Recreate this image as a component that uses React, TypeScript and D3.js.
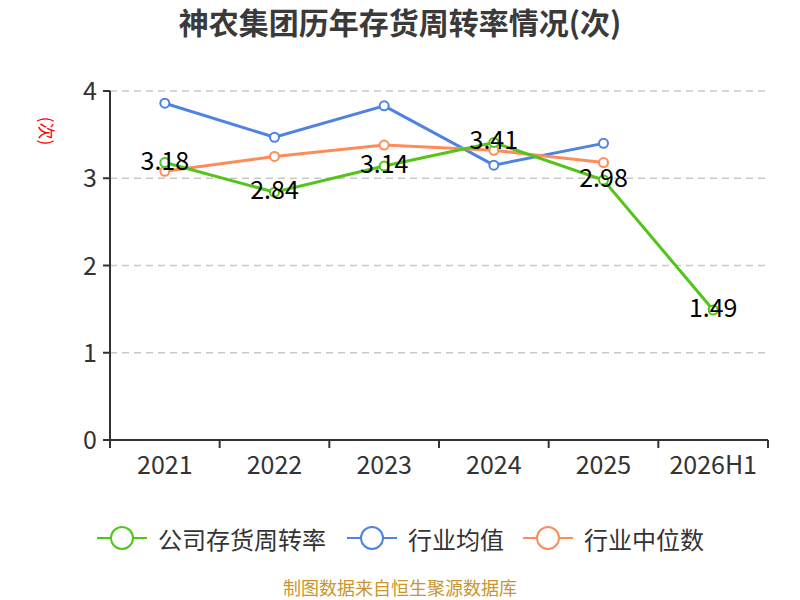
import React from "react";
import * as d3 from "d3";

const categories = ["2021", "2022", "2023", "2024", "2025", "2026H1"];
const companyValues = [3.18, 2.84, 3.14, 3.41, 2.98, 1.49];
const industryAvg = [3.86, 3.47, 3.83, 3.15, 3.4];
const industryMedian = [3.08, 3.25, 3.38, 3.32, 3.18];
const yTicks = [0, 1, 2, 3, 4];

const seriesNames = ["公司存货周转率", "行业均值", "行业中位数"];
const seriesColors = ["#52c41a", "#4e82e3", "#fd8c5a"];

const FONT = "'Noto Sans CJK SC', 'Noto Sans', sans-serif";

export default function App() {
  const width = 800;
  const height = 600;
  const margin = { top: 91, right: 32, bottom: 160, left: 110 };

  const x = d3
    .scaleBand()
    .domain(categories)
    .range([margin.left, width - margin.right]);

  const y = d3
    .scaleLinear()
    .domain([0, 4])
    .range([height - margin.bottom, margin.top]);

  const cx = (c: string) => (x(c) ?? 0) + x.bandwidth() / 2;

  const line = d3
    .line<[string, number]>()
    .x((d) => cx(d[0]))
    .y((d) => y(d[1]));

  const series = [companyValues, industryAvg, industryMedian].map((vals) =>
    vals.map((v, i) => [categories[i], v] as [string, number])
  );

  const boundaries = [...categories.map((c) => x(c) ?? 0), width - margin.right];

  const legendX = [97, 347, 523];

  return (
    <svg
      width={width}
      height={height}
      style={{ position: "absolute", left: 0, top: 0, background: "#fff" }}
      fontFamily={FONT}
    >
      <text
        x={400}
        y={34}
        textAnchor="middle"
        fontSize={30}
        fontWeight="bold"
        fill="#3a3a3a"
      >
        神农集团历年存货周转率情况(次)
      </text>

      {/* y axis label */}
      <text
        transform={`translate(47,131) rotate(90)`}
        textAnchor="middle"
        dominantBaseline="central"
        fontSize={17}
        fill="red"
      >
        (次)
      </text>

      {/* grid */}
      {yTicks
        .filter((t) => t > 0)
        .map((t) => (
          <line
            key={t}
            x1={margin.left}
            x2={width - margin.right}
            y1={y(t)}
            y2={y(t)}
            stroke="#c8c8c8"
            strokeWidth={1.5}
            strokeDasharray="7,5"
          />
        ))}

      {/* y axis */}
      <line
        x1={margin.left}
        x2={margin.left}
        y1={y(0)}
        y2={y(4)}
        stroke="#333"
        strokeWidth={2}
      />
      {yTicks.map((t) => (
        <g key={t}>
          <line
            x1={margin.left - 7}
            x2={margin.left}
            y1={y(t)}
            y2={y(t)}
            stroke="#333"
            strokeWidth={2}
          />
          <text
            x={margin.left - 13}
            y={y(t) - 2}
            textAnchor="end"
            dominantBaseline="central"
            fontSize={25}
            fill="#333"
          >
            {t}
          </text>
        </g>
      ))}

      {/* x axis */}
      <line
        x1={margin.left}
        x2={width - margin.right}
        y1={y(0)}
        y2={y(0)}
        stroke="#333"
        strokeWidth={2}
      />
      {boundaries.map((b, i) => (
        <line
          key={i}
          x1={b}
          x2={b}
          y1={y(0)}
          y2={y(0) + 8}
          stroke="#333"
          strokeWidth={2}
        />
      ))}
      {categories.map((c) => (
        <text
          key={c}
          x={cx(c)}
          y={y(0) + 34}
          textAnchor="middle"
          fontSize={25}
          fill="#333"
        >
          {c}
        </text>
      ))}

      {/* lines */}
      {[1, 2, 0].map((si) => (
        <g key={si}>
          <path
            d={line(series[si]) ?? ""}
            fill="none"
            stroke={seriesColors[si]}
            strokeWidth={3}
          />
          {series[si].map((d, i) => (
            <circle
              key={i}
              cx={cx(d[0])}
              cy={y(d[1])}
              r={4.5}
              fill="#fff"
              stroke={seriesColors[si]}
              strokeWidth={2}
            />
          ))}
        </g>
      ))}

      {/* labels */}
      {series[0].map((d, i) => (
        <text
          key={i}
          x={cx(d[0])}
          y={y(d[1]) - 4}
          textAnchor="middle"
          dominantBaseline="central"
          fontSize={25}
          fill="#000"
        >
          {d[1].toFixed(2)}
        </text>
      ))}

      {/* legend */}
      {seriesNames.map((n, i) => (
        <g key={n} transform={`translate(${legendX[i]},538)`}>
          <line x1={0} x2={50} y1={0} y2={0} stroke={seriesColors[i]} strokeWidth={2} />
          <circle cx={25} cy={0} r={11} fill="#fff" stroke={seriesColors[i]} strokeWidth={2} />
          <text x={61} y={0} dominantBaseline="central" fontSize={24} fill="#333">
            {n}
          </text>
        </g>
      ))}

      <text x={400} y={595} textAnchor="middle" fontSize={18} fill="#c8962c">
        制图数据来自恒生聚源数据库
      </text>
    </svg>
  );
}
